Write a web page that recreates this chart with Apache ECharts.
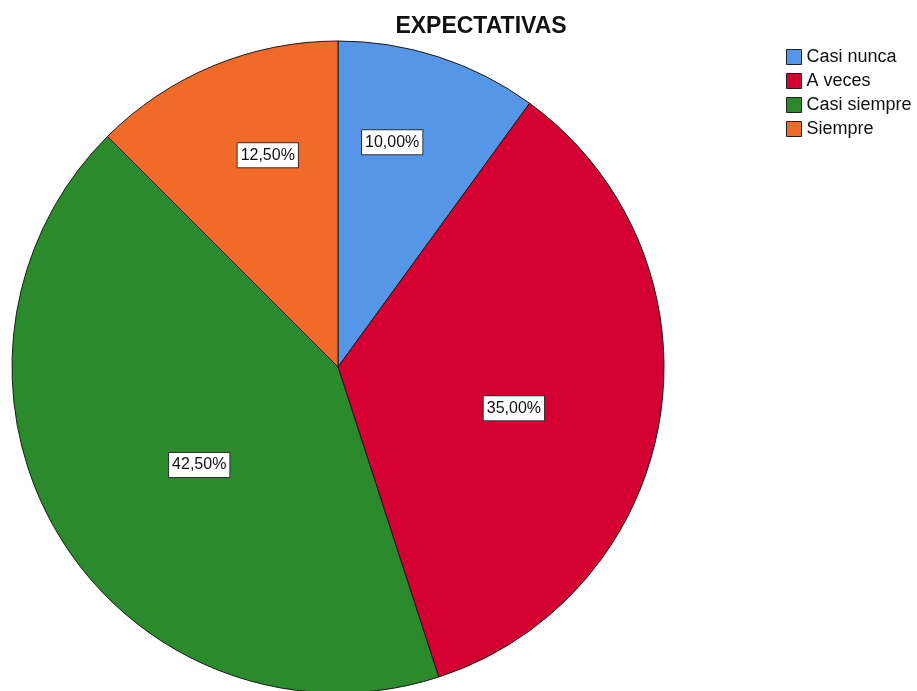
<!DOCTYPE html>
<html>
<head>
<meta charset="utf-8">
<script src="https://cdn.jsdelivr.net/npm/echarts@6/dist/echarts.min.js"></script>
<style>
  html, body { margin: 0; padding: 0; background: #fff; }
  #chart { width: 917px; height: 691px; }
</style>
</head>
<body>
<div id="chart"></div>
<script>
// Response categories and their share of answers (%)
const categories = ['Casi nunca', 'A veces', 'Casi siempre', 'Siempre'];
const values = [10.0, 35.0, 42.5, 12.5];
const colors = ['#5596E6', '#D50032', '#2B8A2B', '#F26A2A'];
// Label placement inside each slice: fraction of the radius and a small
// angular nudge (degrees) away from the slice's mid angle
const labelRadius = [0.70, 0.545, 0.512, 0.675];
const labelAngleShift = [-4.5, 4.3, -3.8, 4.2];

const R = 326;
const CX = 338, CY = 367;
const total = values.reduce((a, b) => a + b, 0);

function fmt(v) {
  return v.toFixed(2).replace('.', ',') + '%';
}

// mid angle of each slice, measured clockwise from the top
const midAngles = [];
let acc = 0;
values.forEach(v => {
  midAngles.push((acc + v / 2) / total * 2 * Math.PI);
  acc += v;
});

const chart = echarts.init(document.getElementById('chart'), null, { renderer: 'canvas' });
chart.setOption({
  animation: false,
  backgroundColor: '#ffffff',
  title: {
    text: 'EXPECTATIVAS',
    left: 481,
    textAlign: 'center',
    top: 15,
    padding: 0,
    textStyle: { fontFamily: 'Liberation Sans, Arial, sans-serif', fontSize: 23, fontWeight: 'bold', color: '#111' }
  },
  legend: {
    orient: 'vertical',
    left: 786,
    top: 48,
    padding: 0,
    itemWidth: 15,
    itemHeight: 15,
    itemGap: 6,
    icon: 'rect',
    data: categories,
    itemStyle: { borderColor: '#222', borderWidth: 1 },
    textStyle: { fontFamily: 'Liberation Sans, Arial, sans-serif', fontSize: 18, color: '#111', lineHeight: 18 }
  },
  series: [{
    type: 'pie',
    center: [CX, CY],
    radius: R,
    startAngle: 90,
    clockwise: true,
    avoidLabelOverlap: false,
    data: categories.map((c, i) => ({ name: c, value: values[i], itemStyle: { color: colors[i] } })),
    itemStyle: { borderColor: '#1a1a1a', borderWidth: 1 },
    label: {
      show: true,
      position: 'inside',
      formatter: p => fmt(p.value / total * 100),
      fontFamily: 'Liberation Sans, Arial, sans-serif',
      fontSize: 16,
      color: '#111',
      backgroundColor: '#fff',
      borderColor: '#333',
      borderWidth: 1,
      padding: [4, 3, 4, 3]
    },
    labelLayout: function (p) {
      const i = p.dataIndex;
      const a0 = midAngles[i];
      const a = a0 + labelAngleShift[i] * Math.PI / 180;
      const r = labelRadius[i] * R;
      // default inside position sits at half the radius on the mid angle
      const dx = Math.sin(a) * r - Math.sin(a0) * R / 2;
      const dy = -Math.cos(a) * r + Math.cos(a0) * R / 2;
      return { dx: dx, dy: dy };
    },
    labelLine: { show: false },
    emphasis: { disabled: true }
  }]
});
</script>
</body>
</html>
